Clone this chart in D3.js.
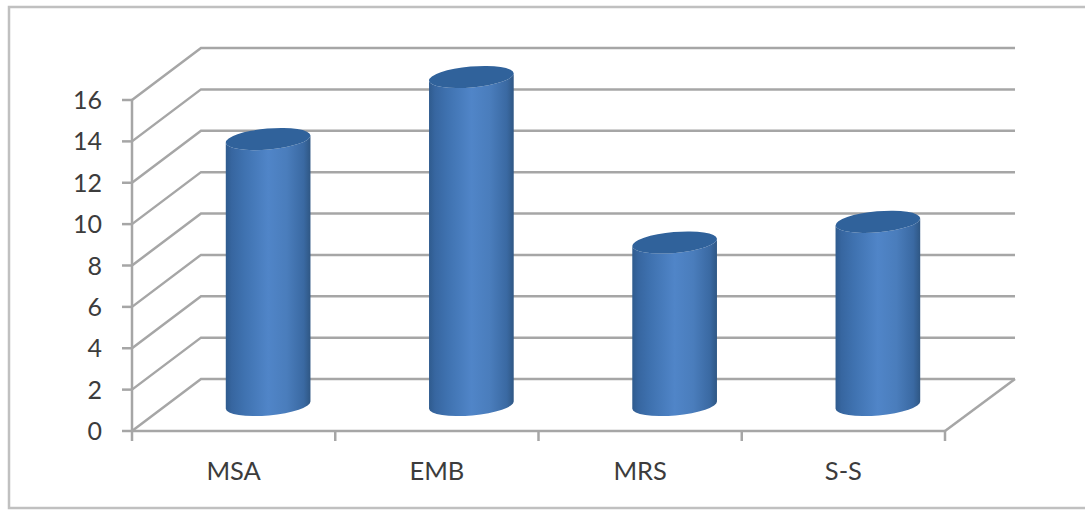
<!DOCTYPE html>
<html>
<head>
<meta charset="utf-8">
<style>
  html, body { margin: 0; padding: 0; background: #fff; overflow: hidden; }
  svg { display: block; }
  text { font-family: Lato, "Open Sans", sans-serif; fill: #3c3c3c; }
</style>
<script src="https://cdn.jsdelivr.net/npm/d3@7"></script>
</head>
<body>
<svg id="chart" width="1085" height="510"></svg>
<script>
const categories = ["MSA", "EMB", "MRS", "S-S"];
const values = [13, 16, 8, 9];
const yTicks = [0, 2, 4, 6, 8, 10, 12, 14, 16];

// Oblique projection of the floor: the back wall sits up and to the right.
const depthX = 69, depthY = 52;
const frontLeft = 132, frontRight = 945;
const axisColor = "#a6a6a6";

const x = d3.scaleBand().domain(categories).range([frontLeft, frontRight]);
const y = d3.scaleLinear().domain([0, 16]).range([431, 100]);

const svg = d3.select("#chart");

// Outer chart frame, its right side runs off the page
svg.append("rect")
  .attr("x", 9).attr("y", 7).attr("width", 1090).attr("height", 501)
  .attr("fill", "#fff").attr("stroke", "#c0c0c0").attr("stroke-width", 2.5);

// Cylinder shading: narrow dark edges, lighter towards the middle
const defs = svg.append("defs");
const side = defs.append("linearGradient").attr("id", "cylinderSide");
[[0, "#2f5b8e"], [0.07, "#3766a0"], [0.22, "#3f72b0"], [0.5, "#5085c8"], [0.72, "#4a7dbc"], [0.92, "#3a69a2"], [1, "#2f5784"]]
  .forEach(([o, c]) => side.append("stop").attr("offset", o).attr("stop-color", c));

// Gridlines on the side wall and the back wall
const grid = svg.append("g").attr("fill", "none").attr("stroke", axisColor).attr("stroke-width", 2.5);
grid.selectAll("path").data(yTicks).join("path")
  .attr("d", d => `M${frontLeft},${y(d)}L${frontLeft + depthX},${y(d) - depthY}H${frontRight + depthX + 1}`);

// Floor edge on the right
grid.append("path")
  .attr("d", `M${frontRight},${y(0)}L${frontRight + depthX + 1},${y(0) - depthY}`);

// Axis lines and tick marks
const axes = svg.append("g").attr("stroke", axisColor).attr("stroke-width", 2.5);
axes.append("line").attr("x1", frontLeft).attr("x2", frontLeft).attr("y1", y(16)).attr("y2", y(0) + 10);
axes.append("line").attr("x1", frontLeft).attr("x2", frontRight).attr("y1", y(0)).attr("y2", y(0));
axes.selectAll(".ytick").data(yTicks).join("line").attr("class", "ytick")
  .attr("x1", frontLeft - 10).attr("x2", frontLeft).attr("y1", d => y(d)).attr("y2", d => y(d));
axes.selectAll(".xtick").data(categories.slice(1).map(c => x(c)).concat(frontRight)).join("line").attr("class", "xtick")
  .attr("x1", d => d).attr("x2", d => d).attr("y1", y(0)).attr("y2", y(0) + 10);

// Value labels
svg.append("g").selectAll("text").data(yTicks).join("text")
  .attr("x", 102).attr("y", d => y(d) + 9)
  .attr("text-anchor", "end").attr("font-size", 25)
  .text(d => d);

// Category labels
svg.append("g").selectAll("text").data(categories).join("text")
  .attr("x", c => x(c) + x.bandwidth() / 2).attr("y", 480)
  .attr("text-anchor", "middle").attr("font-size", 25.5)
  .text(c => c);

// Cylinders stand at mid depth on the floor; the caps sit slightly nearer the front
const rx = 42.5, ry = 10.5, tilt = -5;
const capRise = depthY / 2 - 3;
const bars = svg.append("g").selectAll("g").data(categories.map((c, i) => ({ c, v: values[i] }))).join("g")
  .attr("transform", d => `translate(${x(d.c) + x.bandwidth() / 2 + depthX / 2},0)`);

const base = y(0) - depthY / 2;
const rad = tilt * Math.PI / 180;
const dx = rx * Math.cos(rad), dy = rx * Math.sin(rad);

bars.append("path")
  .attr("fill", "url(#cylinderSide)")
  .attr("d", d => {
    const top = y(d.v) - capRise;
    return `M${-dx},${top - dy}L${-dx},${base - dy}`
      + `A${rx},${ry} ${tilt} 0 0 ${dx},${base + dy}`
      + `L${dx},${top + dy}`
      + `A${rx},${ry} ${tilt} 0 1 ${-dx},${top - dy}Z`;
  });

bars.append("ellipse")
  .attr("rx", rx).attr("ry", ry).attr("fill", "#30629b")
  .attr("transform", d => `translate(0,${y(d.v) - capRise}) rotate(${tilt})`);
</script>
</body>
</html>
